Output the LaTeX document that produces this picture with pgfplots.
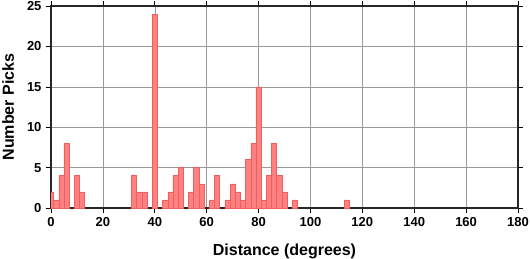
\documentclass[border=0pt]{standalone}
\usepackage{pgfplots}
\pgfplotsset{compat=1.18}
\usepackage{fontspec}
\setmainfont{Liberation Sans}
\definecolor{barfill}{RGB}{255,128,128}
\definecolor{baredge}{RGB}{238,96,96}
\begin{document}
\begin{tikzpicture}
\useasboundingbox (0,0) rectangle (530pt,258pt);
\begin{axis}[
  at={(51pt,50pt)}, anchor=south west,
  width=467pt, height=202pt, scale only axis,
  xmin=0, xmax=180, ymin=0, ymax=25,
  xtick={0,20,...,180}, ytick={0,5,...,25},
  xtick pos=both, ytick pos=both,
  xticklabel pos=lower, yticklabel pos=left,
  tick align=outside, major tick length=5pt,
  tick style={black, line width=0.6pt},
  grid=major, grid style={draw=black!40, line width=0.5pt},
  axis line style={line width=1.2pt, black!85},
  /pgf/number format/assume math mode=true,
  ticklabel style={font=\fontsize{13}{13}\selectfont\bfseries},
  xticklabel style={yshift=-1pt},
  yticklabel style={xshift=-1pt},
  xlabel={Distance (degrees)},
  ylabel={Number Picks},
  label style={font=\fontsize{16}{16}\selectfont\bfseries},
  xlabel style={at={([yshift=-47pt]axis description cs:0.5,0)}, anchor=base},
  ylabel style={at={([xshift=-37pt]axis description cs:0,0.5)}, anchor=base},
]
\addplot[ybar, bar width=2, fill=barfill, draw=baredge, line width=0.5pt]
coordinates {
(0,2) (2,1) (4,4) (6,8) (10,4) (12,2)
(32,4) (34,2) (36,2) (40,24)
(44,1) (46,2) (48,4) (50,5)
(54,2) (56,5) (58,3)
(62,1) (64,4)
(68,1) (70,3) (72,2) (74,1) (76,6) (78,8) (80,15)
(82,1) (84,4) (86,8) (88,4) (90,2)
(94,1) (114,1)
};
\end{axis}
\end{tikzpicture}
\end{document}
